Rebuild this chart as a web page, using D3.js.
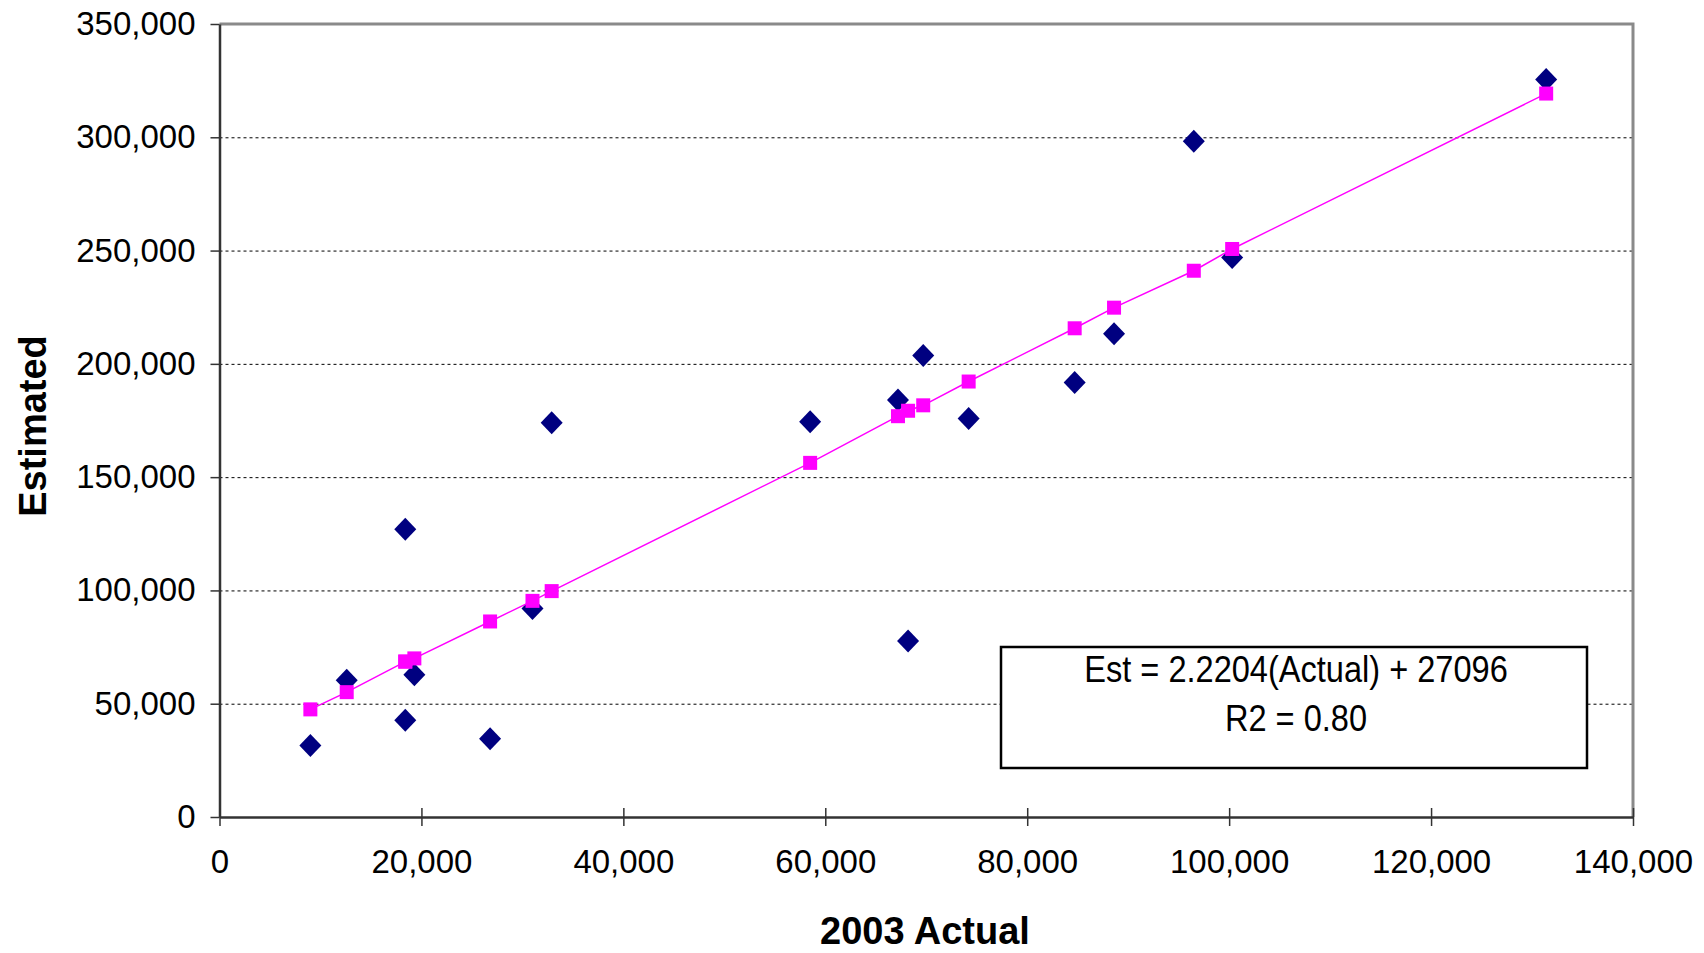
<!DOCTYPE html>
<html>
<head>
<meta charset="utf-8">
<script src="https://cdn.jsdelivr.net/npm/d3@7"></script>
<style>
  body { margin: 0; background: #fff; }
  svg { display: block; font-family: "Liberation Sans", Arial, sans-serif; }
  .grid line { stroke: #000; stroke-dasharray: 3,3; stroke-width: 1; }
  .grid .domain { display: none; }
  .axis text { font-size: 33px; fill: #000; }
  .axis line { stroke: #333; stroke-width: 1.5; }
  .axis .domain { stroke: #333; stroke-width: 2.5; }
  .label { font-size: 38px; font-weight: bold; fill: #000; }
  .legend text { font-size: 37px; fill: #000; }
</style>
</head>
<body>
<svg width="1704" height="953"></svg>
<script>
// 2003 actual values (x)
const actual = [9000, 12600, 18400, 18400, 19300, 26800, 31000, 32900, 58500, 67200,
  68200, 69700, 74200, 84700, 88600, 96500, 100300, 131400];
// estimated values (blue diamonds)
const estimated = [31600, 60400, 127000, 42700, 62800, 34500, 92000, 174000, 174500, 184100,
  77700, 203700, 175900, 191800, 213300, 298200, 246900, 325500];
// fitted values (pink squares), same x order as actual
const fitted = [47500, 55100, 68600, 68600, 70000, 86300, 95400, 99700, 156300, 176900,
  179300, 181700, 192200, 215700, 224800, 241100, 250700, 319300];

const xTicks = [0, 20000, 40000, 60000, 80000, 100000, 120000, 140000];
const yTicks = [0, 50000, 100000, 150000, 200000, 250000, 300000, 350000];
const legendLines = ['Est = 2.2204(Actual) + 27096', 'R2 = 0.80'];

const svg = d3.select('svg');

const plotLeft = 219.5, plotRight = 1633, plotTop = 24, plotBottom = 817;

const xScale = d3.scaleLinear()
  .domain([0, 140000])
  .range([plotLeft, plotRight]);

const yScale = d3.scaleLinear()
  .domain([0, 350000])
  .range([plotBottom, plotTop]);

// horizontal dashed grid lines
svg.append('g')
  .attr('class', 'grid')
  .attr('transform', `translate(${plotLeft}, 0)`)
  .call(d3.axisLeft(yScale)
    .tickValues(yTicks.filter(v => v > 0 && v < 350000))
    .tickSize(-(plotRight - plotLeft))
    .tickFormat('')
  );

// plot border top / right
svg.append('path')
  .attr('d', `M${plotLeft},${plotTop}H${plotRight}V${plotBottom}`)
  .attr('fill', 'none')
  .attr('stroke', '#8a8a8a')
  .attr('stroke-width', 3);

// y axis
svg.append('g')
  .attr('class', 'axis')
  .attr('transform', `translate(${plotLeft}, 0)`)
  .call(d3.axisLeft(yScale)
    .tickValues(yTicks)
    .tickSize(9)
    .tickSizeOuter(0)
    .tickPadding(15)
    .tickFormat(d3.format(','))
  );

// x axis, ticks cross the axis line
const xAxis = svg.append('g')
  .attr('class', 'axis')
  .attr('transform', `translate(0, ${plotBottom})`)
  .call(d3.axisBottom(xScale)
    .tickValues(xTicks)
    .tickSize(9)
    .tickSizeOuter(0)
    .tickPadding(24)
    .tickFormat(d3.format(','))
  );
xAxis.selectAll('.tick line').attr('y1', -9);

const pts = actual.map((a, i) => ({ x: a, est: estimated[i], fit: fitted[i] }));

// navy diamonds
svg.selectAll('.dia')
  .data(pts)
  .enter()
  .append('path')
  .attr('class', 'dia')
  .attr('transform', d => `translate(${xScale(d.x)}, ${yScale(d.est)})`)
  .attr('d', 'M0,-11.5L11,0L0,11.5L-11,0Z')
  .attr('fill', '#000080');

// fitted line
svg.append('path')
  .datum(pts.slice().sort((a, b) => a.x - b.x))
  .attr('fill', 'none')
  .attr('stroke', '#ff00ff')
  .attr('stroke-width', 1.5)
  .attr('d', d3.line()
    .x(d => xScale(d.x))
    .y(d => yScale(d.fit))
  );

// pink squares
svg.selectAll('.sq')
  .data(pts)
  .enter()
  .append('rect')
  .attr('class', 'sq')
  .attr('x', d => xScale(d.x) - 7)
  .attr('y', d => yScale(d.fit) - 7)
  .attr('width', 14)
  .attr('height', 14)
  .attr('fill', '#ff00ff');

// legend box
const legend = svg.append('g').attr('class', 'legend');
legend.append('rect')
  .attr('x', 1001)
  .attr('y', 647)
  .attr('width', 586)
  .attr('height', 121)
  .attr('fill', '#fff')
  .attr('stroke', '#000')
  .attr('stroke-width', 2.5);

legend.selectAll('text')
  .data(legendLines)
  .enter()
  .append('text')
  .attr('text-anchor', 'middle')
  .attr('transform', (d, i) => `translate(1296, ${682 + i * 49}) scale(0.88, 1)`)
  .text(d => d);

// axis titles
svg.append('text')
  .attr('class', 'label')
  .attr('transform', 'translate(46, 426) rotate(-90)')
  .attr('text-anchor', 'middle')
  .text('Estimated');

svg.append('text')
  .attr('class', 'label')
  .attr('x', 925)
  .attr('y', 944)
  .attr('text-anchor', 'middle')
  .text('2003 Actual');
</script>
</body>
</html>
